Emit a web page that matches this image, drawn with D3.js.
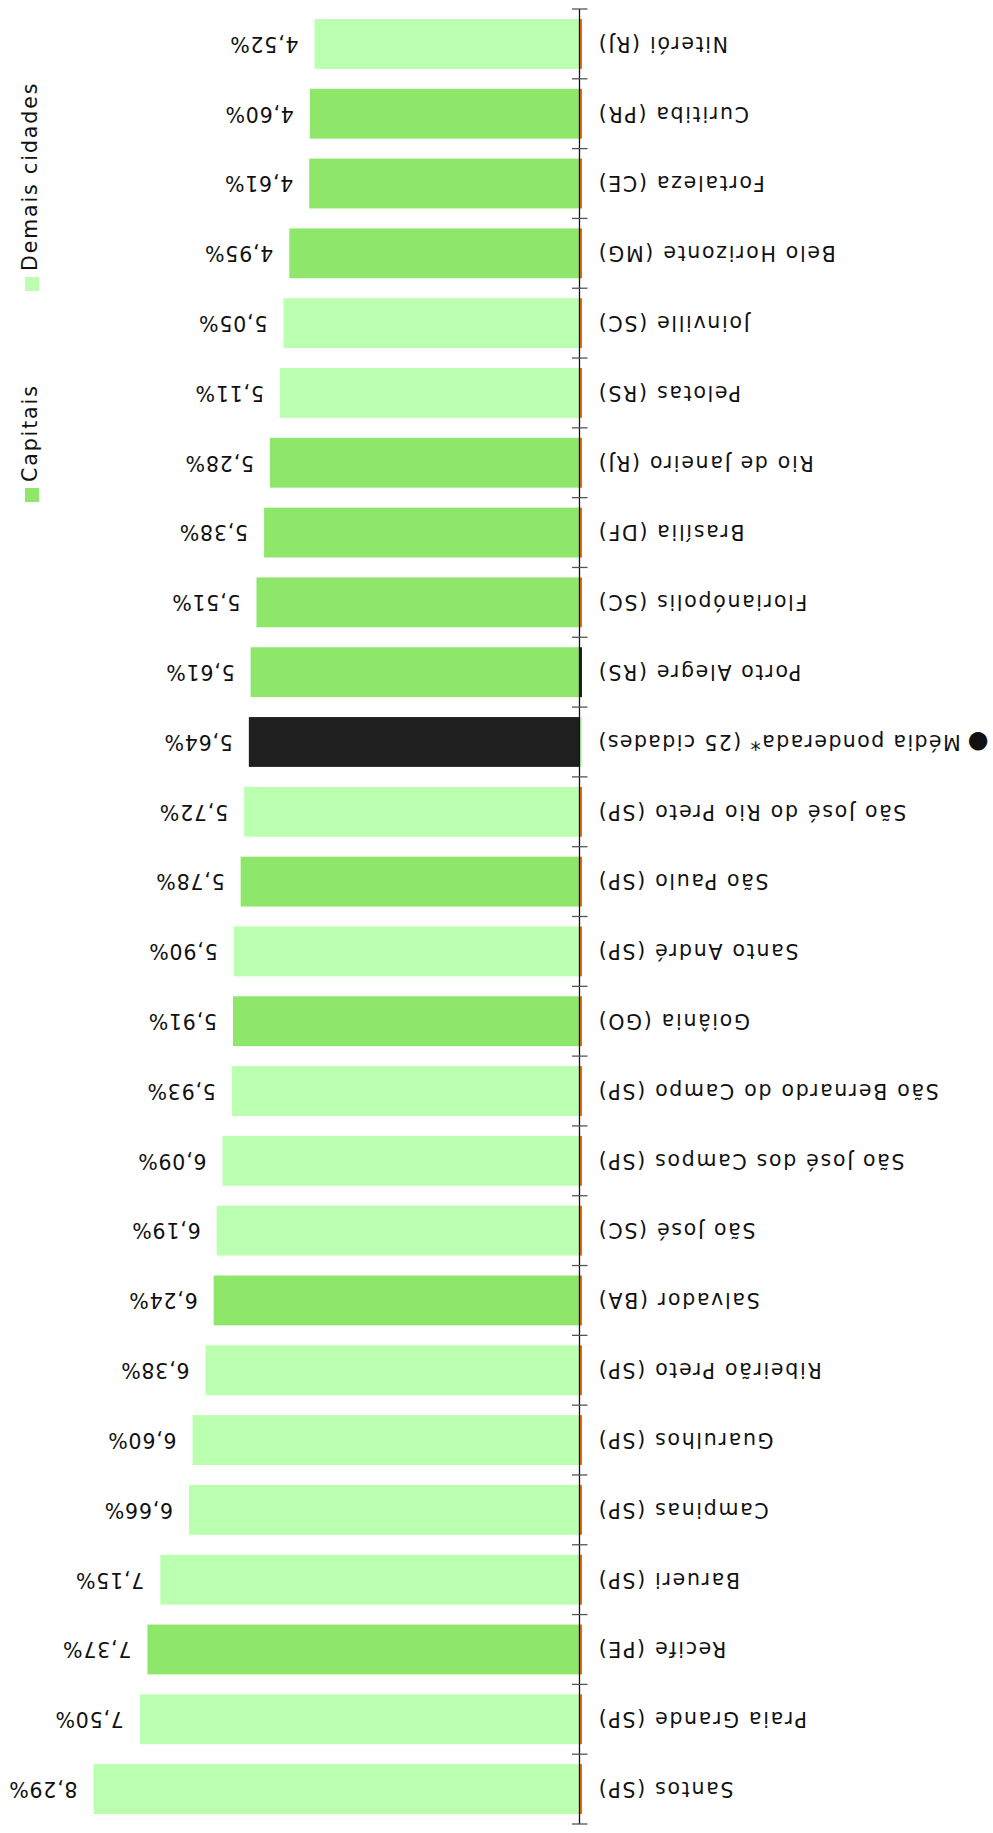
<!DOCTYPE html>
<html>
<head>
<meta charset="utf-8">
<script src="https://cdn.jsdelivr.net/npm/d3@7"></script>
<style>
  body { margin: 0; background: #fff; }
  svg text { font-family: "DejaVu Sans", sans-serif; fill: #111; }
</style>
</head>
<body>
<script>
// categories, from the largest value to the smallest
const cidades = [
  "Santos (SP)", "Praia Grande (SP)", "Recife (PE)", "Barueri (SP)", "Campinas (SP)",
  "Guarulhos (SP)", "Ribeirão Preto (SP)", "Salvador (BA)", "São José (SC)",
  "São José dos Campos (SP)", "São Bernardo do Campo (SP)", "Goiânia (GO)",
  "Santo André (SP)", "São Paulo (SP)", "São José do Rio Preto (SP)",
  "Média ponderada* (25 cidades)", "Porto Alegre (RS)", "Florianópolis (SC)",
  "Brasília (DF)", "Rio de Janeiro (RJ)", "Pelotas (RS)", "Joinville (SC)",
  "Belo Horizonte (MG)", "Fortaleza (CE)", "Curitiba (PR)", "Niterói (RJ)"
];
const valores = [
  8.29, 7.50, 7.37, 7.15, 6.66, 6.60, 6.38, 6.24, 6.19, 6.09, 5.93, 5.91, 5.90,
  5.78, 5.72, 5.64, 5.61, 5.51, 5.38, 5.28, 5.11, 5.05, 4.95, 4.61, 4.60, 4.52
];
const tipos = [
  "Demais cidades", "Demais cidades", "Capitais", "Demais cidades", "Demais cidades",
  "Demais cidades", "Demais cidades", "Capitais", "Demais cidades", "Demais cidades",
  "Demais cidades", "Capitais", "Demais cidades", "Capitais", "Demais cidades",
  "Média", "Capitais", "Capitais", "Capitais", "Capitais", "Demais cidades",
  "Demais cidades", "Capitais", "Capitais", "Capitais", "Demais cidades"
];
const legenda = ["Capitais", "Demais cidades"];

const data = cidades.map((c, i) => ({ cidade: c, valor: valores[i], tipo: tipos[i] }));

const width = 993;
const height = 1833;
const axisX = 413.5;

const svg = d3.select("body").append("svg")
  .attr("width", width)
  .attr("height", height);

const color = d3.scaleOrdinal()
  .domain(["Capitais", "Demais cidades", "Média"])
  .range(["#8ee66a", "#bbffb0", "#1f1f1f"]);

// thin strip drawn just before each bar
const stripColor = d => d.cidade === "Porto Alegre (RS)" ? "#1f1f1f"
  : d.tipo === "Média" ? "#bbffb0" : "#ff6400";

const br = d3.formatLocale({ decimal: ",", thousands: ".", grouping: [3], currency: ["R$", ""] });
const fmt = v => br.format(".2f")(v) + "%";

// the whole chart is drawn upside down
const g = svg.append("g")
  .attr("transform", `rotate(180 ${width / 2} ${height / 2})`);

const y = d3.scaleBand()
  .domain(cidades)
  .range([9, 1824]);

const x = d3.scaleLinear()
  .domain([0, d3.max(valores)])
  .range([axisX, axisX + 486]);

const inset = y.step() * 0.143;

// bars
g.selectAll("rect.bar")
  .data(data)
  .enter()
  .append("rect")
  .attr("class", "bar")
  .attr("x", x(0))
  .attr("y", d => y(d.cidade) + inset)
  .attr("width", d => x(d.valor) - x(0))
  .attr("height", y.bandwidth() - 2 * inset)
  .attr("fill", d => color(d.tipo));

g.selectAll("rect.strip")
  .data(data)
  .enter()
  .append("rect")
  .attr("class", "strip")
  .attr("x", x(0) - 2.5)
  .attr("y", d => y(d.cidade) + inset)
  .attr("width", 2.5)
  .attr("height", y.bandwidth() - 2 * inset)
  .attr("fill", stripColor);

// axis line and ticks at the band edges
g.append("line")
  .attr("x1", axisX).attr("x2", axisX)
  .attr("y1", y.range()[0]).attr("y2", y.range()[1])
  .attr("stroke", "#111")
  .attr("stroke-width", 1.3);

const edges = cidades.map(c => y(c)).concat([y.range()[1]]);
g.selectAll("line.tick")
  .data(edges)
  .enter()
  .append("line")
  .attr("class", "tick")
  .attr("x1", axisX - 8).attr("x2", axisX + 7.5)
  .attr("y1", d => d).attr("y2", d => d)
  .attr("stroke", "#555")
  .attr("stroke-width", 1.3);

// category labels
const cat = g.selectAll("text.cat")
  .data(data)
  .enter()
  .append("text")
  .attr("class", "cat")
  .attr("x", axisX - 17.5)
  .attr("y", d => y(d.cidade) + y.bandwidth() / 2)
  .attr("dy", "0.35em")
  .attr("text-anchor", "end")
  .style("font-size", "20.5px")
  .style("letter-spacing", d => d.tipo === "Média" ? "1.4px" : "1.7px");

cat.filter(d => d.tipo === "Média")
  .append("tspan")
  .style("font-size", "24px")
  .style("letter-spacing", "0px")
  .text("●");

cat.append("tspan")
  .attr("dx", d => d.tipo === "Média" ? 7 : 0)
  .text(d => d.cidade);

// value labels
g.selectAll("text.val")
  .data(data)
  .enter()
  .append("text")
  .attr("class", "val")
  .attr("x", d => x(d.valor) + 16)
  .attr("y", d => y(d.cidade) + y.bandwidth() / 2)
  .attr("dy", "0.35em")
  .style("font-size", "20.5px")
  .style("letter-spacing", "0.8px")
  .text(d => fmt(d.valor));

// legend, vertical on the left
const leg = svg.append("g");
const legY = d3.scalePoint().domain(legenda).range([502, 291]);

const item = leg.selectAll("g")
  .data(legenda)
  .enter()
  .append("g")
  .attr("transform", d => `translate(25, ${legY(d)})`);

item.append("rect")
  .attr("x", 0)
  .attr("y", -14)
  .attr("width", 14)
  .attr("height", 14)
  .attr("fill", d => color(d));

item.append("text")
  .attr("transform", "translate(12, -20) rotate(-90)")
  .style("font-size", "20.5px")
  .style("letter-spacing", "1.9px")
  .text(d => d);
</script>
</body>
</html>
